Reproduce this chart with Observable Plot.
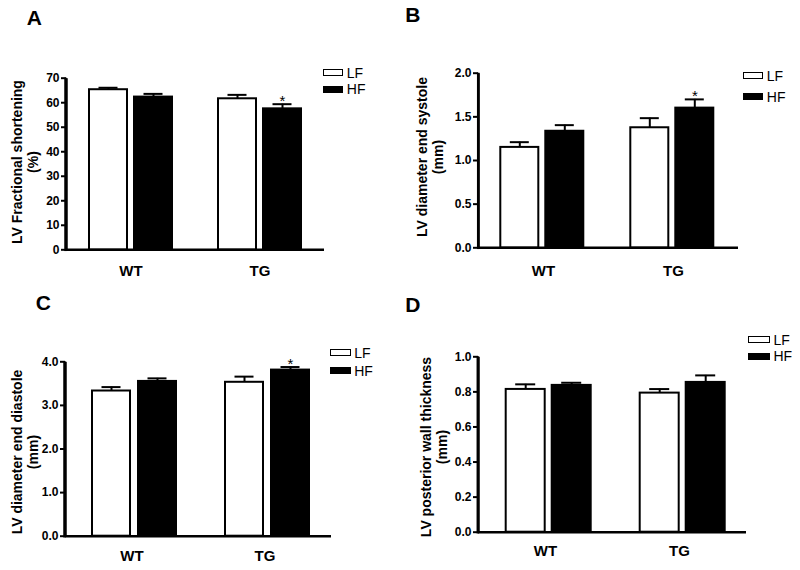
<!DOCTYPE html>
<html>
<head>
<meta charset="utf-8">
<script src="https://cdn.jsdelivr.net/npm/d3@7"></script>
<script src="https://cdn.jsdelivr.net/npm/@observablehq/plot@0.6"></script>
<style>
  body { margin: 0; background: #fff; }
  #wrap { position: relative; width: 800px; height: 570px; background: #fff; font-family: "Liberation Sans", Arial, sans-serif; color: #000; overflow: hidden; }
  .abs { position: absolute; }
  .letter { font-size: 21px; font-weight: bold; line-height: 1; }
  .ytitle { width: 300px; height: 32px; line-height: 16px; font-size: 14px; font-weight: bold; text-align: center; transform: rotate(-90deg); transform-origin: 50% 50%; white-space: pre; pointer-events: none; }
  .leg { display: flex; align-items: center; height: 16px; font-size: 14px; line-height: 16px; }
  .sw { box-sizing: border-box; height: 7px; border: 1.5px solid #000; margin-right: 3.5px; }
</style>
</head>
<body>
<div id="wrap"></div>
<script>
// ---- data ----
const groups = ["WT", "TG"];
const diets = ["LF", "HF"];
const legendLabels = ["LF", "HF"];
const panelLetters = ["A", "B", "C", "D"];
const yTitles = [
  "LV Fractional shortening\n(%)",
  "LV diameter end systole\n(mm)",
  "LV diameter end diastole\n(mm)",
  "LV posterior wall thickness\n(mm)"
];
// values in order: WT-LF, WT-HF, TG-LF, TG-HF
const fsMean = [65.3, 62.3, 61.6, 57.5];
const fsSem = [0.8, 1.3, 1.6, 1.9];
const fsSig = [false, false, false, true];
const sysMean = [1.15, 1.335, 1.375, 1.60];
const sysSem = [0.06, 0.07, 0.11, 0.10];
const sysSig = [false, false, false, true];
const diaMean = [3.33, 3.55, 3.53, 3.81];
const diaSem = [0.09, 0.07, 0.13, 0.07];
const diaSig = [false, false, false, true];
const pwMean = [0.814, 0.837, 0.793, 0.854];
const pwSem = [0.029, 0.015, 0.023, 0.040];
const pwSig = [false, false, false, false];
const fsTicks = [0, 10, 20, 30, 40, 50, 60, 70];
const sysTicks = [0, 0.5, 1.0, 1.5, 2.0];
const diaTicks = [0, 1, 2, 3, 4];
const pwTicks = [0, 0.2, 0.4, 0.6, 0.8, 1.0];

function rowsOf(means, sems, sigs) {
  const rows = [];
  let i = 0;
  for (const g of groups) for (const d of diets) {
    rows.push({group: g, diet: d, mean: means[i], top: means[i] + sems[i], sig: sigs[i]});
    i++;
  }
  return rows;
}

const panels = [
  {rows: rowsOf(fsMean, fsSem, fsSig), ticks: fsTicks, fmt: d3.format("d"),
   left: 0, top: 0, mL: 65, mR: 76, mT: 77.7, mB: 35.7, p: 0.163, o: 0.489, a: 0.506, fxPad: 16,
   letter: [26.7, 7.2], title: [25, 162], leg: [322.7, 72.5, 89, 20.6]},
  {rows: rowsOf(sysMean, sysSem, sysSig), ticks: sysTicks, fmt: d3.format(".1f"),
   left: 400, top: 0, mL: 77.7, mR: 61, mT: 72.7, mB: 37.7, p: 0.149, o: 0.4995, a: 0.47, fxPad: 18,
   letter: [405.2, 3.9], title: [430, 157], leg: [742.7, 75.5, 96.7, 20.6]},
  {rows: rowsOf(diaMean, diaSem, diaSig), ticks: diaTicks, fmt: d3.format(".1f"),
   left: 0, top: 285, mL: 64, mR: 68.3, mT: 76.3, mB: 34.3, p: 0.168, o: 0.517, a: 0.553, fxPad: 14,
   letter: [35.7, 291.7], title: [24.5, 452], leg: [330, 352.8, 370.8, 20.7]},
  {rows: rowsOf(pwMean, pwSem, pwSig), ticks: pwTicks, fmt: d3.format(".1f"),
   left: 400, top: 285, mL: 77.3, mR: 53.3, mT: 71.3, mB: 38.3, p: 0.154, o: 0.529, a: 0.565, fxPad: 13.6,
   letter: [405.2, 293.9], title: [433.5, 447], leg: [747.7, 339.7, 356.3, 22.3]}
];

const wrap = document.getElementById("wrap");

panels.forEach((P, k) => {
  const ymax = P.ticks[P.ticks.length - 1];
  const chart = Plot.plot({
    width: 400,
    height: 285,
    marginLeft: P.mL, marginRight: P.mR, marginTop: P.mT, marginBottom: P.mB,
    style: {fontFamily: "'Liberation Sans', Arial, sans-serif", color: "#000", background: "transparent", overflow: "visible"},
    fx: {domain: groups, paddingInner: 0, paddingOuter: 0, label: null},
    x: {domain: diets, paddingInner: P.p, paddingOuter: P.o, align: P.a, axis: null},
    y: {domain: [0, ymax], axis: null},
    color: {domain: diets, range: ["white", "black"]},
    marks: [
      Plot.frame({anchor: "left", facetAnchor: "left", stroke: "black", strokeWidth: 2.5, strokeLinecap: "butt"}),
      Plot.ruleY([0], {stroke: "black", strokeWidth: 2.5}),
      Plot.barY(P.rows, {fx: "group", x: "diet", y: "mean", fill: "diet", stroke: "black", strokeWidth: 2}),
      Plot.ruleX(P.rows, {fx: "group", x: "diet", y1: "mean", y2: "top", stroke: "black", strokeWidth: 2}),
      Plot.tickY(P.rows, {fx: "group", x: "diet", y: "top", stroke: "black", strokeWidth: 2, insetLeft: 9.5, insetRight: 9.5}),
      Plot.text(P.rows.filter(d => d.sig), {fx: "group", x: "diet", y: "top", text: () => "*", lineAnchor: "middle", dy: -3, fontSize: 15, fill: "black"}),
      Plot.axisY(P.ticks, {tickFormat: P.fmt, tickSize: 5, tickPadding: 2, fontSize: 12, fontWeight: "bold", strokeWidth: 2, label: null}),
      Plot.axisFx({anchor: "bottom", tickSize: 0, tickPadding: P.fxPad, fontSize: 15, fontWeight: "bold", label: null})
    ]
  });

  // y-axis line as a thin filled rect, placed from the chart's own y scale
  const ys = chart.scale("y");
  const yTop = ys.apply(ymax);
  const yBot = ys.apply(0) + 1.75;
  d3.select(chart).append("rect")
    .attr("x", P.mL - 0.75)
    .attr("y", yTop)
    .attr("width", 2.5)
    .attr("height", yBot - yTop)
    .attr("fill", "black");

  const holder = document.createElement("div");
  holder.className = "abs";
  holder.style.left = P.left + "px";
  holder.style.top = P.top + "px";
  holder.appendChild(chart);
  wrap.appendChild(holder);

  // panel letter
  const L = document.createElement("div");
  L.className = "abs letter";
  L.style.left = P.letter[0] + "px";
  L.style.top = P.letter[1] + "px";
  L.textContent = panelLetters[k];
  wrap.appendChild(L);

  // y title (two lines, rotated)
  const T = document.createElement("div");
  T.className = "abs ytitle";
  T.style.left = (P.title[0] - 150) + "px";
  T.style.top = (P.title[1] - 16) + "px";
  T.textContent = yTitles[k];
  wrap.appendChild(T);

  // legend
  legendLabels.forEach((lab, j) => {
    const row = document.createElement("div");
    row.className = "abs leg";
    row.style.left = P.leg[0] + "px";
    row.style.top = (P.leg[1 + j] - 8) + "px";
    const sw = document.createElement("div");
    sw.className = "sw";
    sw.style.width = P.leg[3] + "px";
    sw.style.background = j === 0 ? "#fff" : "#000";
    const tx = document.createElement("span");
    tx.textContent = lab;
    row.appendChild(sw);
    row.appendChild(tx);
    wrap.appendChild(row);
  });
});
</script>
</body>
</html>
